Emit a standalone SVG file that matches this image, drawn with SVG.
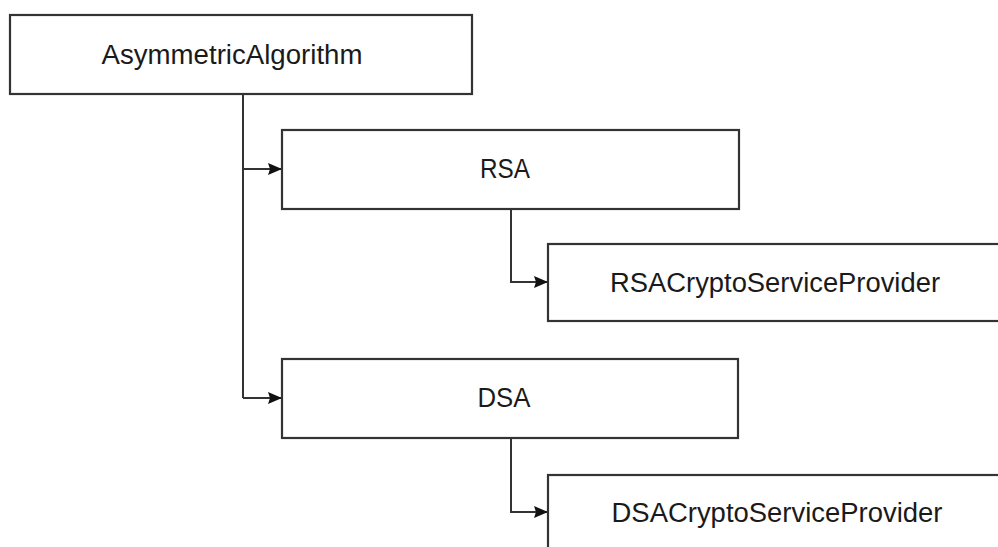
<svg xmlns="http://www.w3.org/2000/svg" width="998" height="547" viewBox="0 0 998 547">
<style>
.box{fill:#fff;stroke:#333;stroke-width:2.2}
.lbl{font-family:"Liberation Sans",Arial,sans-serif;font-size:27px;fill:#1a1a1a;text-anchor:middle}
.conn{fill:none;stroke:#333;stroke-width:2}
</style>
<defs>
<marker id="arr" viewBox="0 0 14 12" refX="14" refY="6" markerWidth="14" markerHeight="12" markerUnits="userSpaceOnUse" orient="auto">
<path d="M0,0 L14,6 L0,12 L2,6 Z" fill="#111"/>
</marker>
</defs>
<rect width="998" height="547" fill="#fff"/>
<g id="connectors">
<path class="conn" d="M243,94 V398"/>
<path class="conn" d="M243,169 H282" marker-end="url(#arr)"/>
<path class="conn" d="M243,398 H282" marker-end="url(#arr)"/>
<path class="conn" d="M511,209 V282 H548" marker-end="url(#arr)"/>
<path class="conn" d="M511,438 V512 H548" marker-end="url(#arr)"/>
</g>
<g id="asymmetric">
<rect class="box" x="10" y="15" width="462" height="79"/>
<text class="lbl" x="232" y="64" textLength="261" lengthAdjust="spacingAndGlyphs">AsymmetricAlgorithm</text>
</g>
<g id="rsa">
<rect class="box" x="282" y="130" width="457" height="79"/>
<text class="lbl" x="505" y="178" textLength="50" lengthAdjust="spacingAndGlyphs">RSA</text>
</g>
<g id="rsacsp">
<rect class="box" x="548" y="244" width="470" height="77"/>
<text class="lbl" x="775" y="292" textLength="330" lengthAdjust="spacingAndGlyphs">RSACryptoServiceProvider</text>
</g>
<g id="dsa">
<rect class="box" x="282" y="359" width="456" height="79"/>
<text class="lbl" x="504" y="407" textLength="53" lengthAdjust="spacingAndGlyphs">DSA</text>
</g>
<g id="dsacsp">
<rect class="box" x="548" y="475" width="470" height="90"/>
<text class="lbl" x="777" y="522" textLength="331" lengthAdjust="spacingAndGlyphs">DSACryptoServiceProvider</text>
</g>
</svg>
